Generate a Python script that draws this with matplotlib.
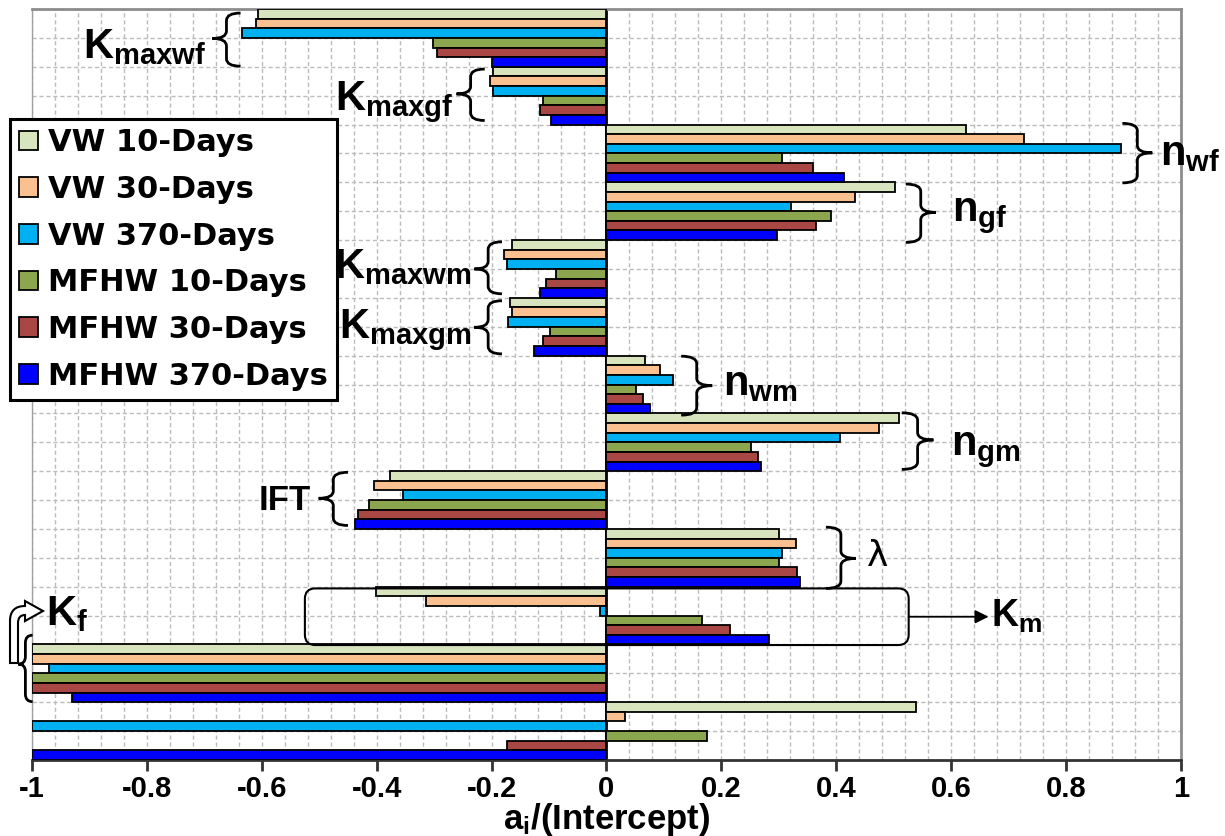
import numpy as np
import matplotlib.pyplot as plt
from matplotlib.patches import Patch, PathPatch, FancyBboxPatch
from matplotlib.path import Path
from matplotlib.transforms import Affine2D
from matplotlib.ticker import FuncFormatter
from matplotlib.font_manager import FontProperties

plt.rcParams['mathtext.fontset'] = 'custom'
plt.rcParams['mathtext.bf'] = 'Liberation Sans:bold'
plt.rcParams['mathtext.rm'] = 'Liberation Sans'
plt.rcParams['mathtext.it'] = 'Liberation Sans:italic'

# groups, top to bottom
groups = ['Kmaxwf', 'Kmaxgf', 'nwf', 'ngf', 'Kmaxwm', 'Kmaxgm', 'nwm', 'ngm',
          'IFT', 'lambda', 'Km', 'Kf', 'Intercept']

series_names = ['VW 10-Days', 'VW 30-Days', 'VW 370-Days',
                'MFHW 10-Days', 'MFHW 30-Days', 'MFHW 370-Days']
colors = ['#d7e4bd', '#fac090', '#00b0f0', '#8ba64f', '#a94744', '#0000ff']

vw10 = [-0.606, -0.197, 0.626, 0.503, -0.165, -0.168, 0.067, 0.509, -0.376, 0.301, -0.401, -1.0, 0.539]
vw30 = [-0.610, -0.202, 0.726, 0.433, -0.178, -0.165, 0.093, 0.474, -0.404, 0.330, -0.314, -1.0, 0.032]
vw370 = [-0.634, -0.197, 0.896, 0.321, -0.174, -0.172, 0.116, 0.406, -0.354, 0.305, -0.012, -0.970, -1.0]
mfhw10 = [-0.302, -0.110, 0.306, 0.391, -0.088, -0.099, 0.051, 0.252, -0.414, 0.301, 0.166, -1.0, 0.175]
mfhw30 = [-0.295, -0.115, 0.359, 0.364, -0.105, -0.110, 0.063, 0.264, -0.432, 0.331, 0.215, -1.0, -0.174]
mfhw370 = [-0.199, -0.097, 0.414, 0.296, -0.115, -0.127, 0.076, 0.269, -0.437, 0.337, 0.283, -0.930, -1.0]

series = [vw10, vw30, vw370, mfhw10, mfhw30, mfhw370]

fig = plt.figure(figsize=(12.25, 8.36), dpi=100)
ax = fig.add_axes([32 / 1225, 76 / 836, 1149 / 1225, 751 / 836])

n = len(groups)
centers = np.arange(n)[::-1]
bar_h = 1 / 6
for j, (vals, col) in enumerate(zip(series, colors)):
    ax.barh(centers + (2.5 - j) * bar_h, vals, height=bar_h, color=col,
            edgecolor='black', linewidth=1.3, zorder=3, label=series_names[j])

ax.set_xlim(-1, 1)
ax.set_ylim(-0.5, n - 0.5)

# grid
ax.set_xticks(np.arange(-1, 1.01, 0.2))
ax.set_xticks(np.arange(-1, 1.001, 0.04), minor=True)
ax.set_yticks(np.arange(-0.5, n, 0.5))
ax.grid(which='both', axis='x', color='#bcbcbc', linestyle=(0, (3, 2)), lw=1)
ax.grid(which='major', axis='y', color='#bcbcbc', linestyle=(0, (3, 2)), lw=1)
ax.set_axisbelow(True)
ax.axvline(0, color='black', lw=2, zorder=2)

ax.xaxis.set_major_formatter(FuncFormatter(lambda v, p: f'{round(v, 1) + 0:g}'))
ax.tick_params(axis='y', length=0, labelleft=False)
ax.tick_params(axis='x', which='major', direction='out', length=8, width=2,
               color='#333333', pad=3, labelsize=21)
ax.tick_params(axis='x', which='minor', length=0)
for lab in ax.get_xticklabels():
    lab.set_family('Liberation Sans')
    lab.set_weight('bold')

ax.spines['bottom'].set_color('#333333')
ax.spines['bottom'].set_linewidth(2)
for s in ['top', 'right']:
    ax.spines[s].set_color('#8c8c8c')
    ax.spines[s].set_linewidth(2)
ax.spines['left'].set_color('#a0a0a0')
ax.spines['left'].set_linewidth(1)

ax.set_xlabel(r'a$_{\mathbf{i}}$/(Intercept)', fontsize=25, fontweight='bold',
              family='Liberation Sans', labelpad=-2)


# curly braces
def brace(x_tip, x_end, y_top, y_bot, y_tip, r=0.13):
    xm = (x_tip + x_end) / 2
    verts = [(x_end, y_top), (xm, y_top), (xm, y_top - r),
             (xm, y_tip + r), (xm, y_tip), (x_tip, y_tip),
             (xm, y_tip), (xm, y_tip - r),
             (xm, y_bot + r), (xm, y_bot), (x_end, y_bot)]
    codes = [Path.MOVETO, Path.CURVE3, Path.CURVE3, Path.LINETO,
             Path.CURVE3, Path.CURVE3, Path.CURVE3, Path.CURVE3,
             Path.LINETO, Path.CURVE3, Path.CURVE3]
    ax.add_patch(PathPatch(Path(verts, codes), fill=False, ec='black',
                           lw=2, zorder=6, clip_on=False))


brace(-0.686, -0.637, 12.43, 11.51, 11.99)
brace(-0.261, -0.212, 11.46, 10.57, 11.03)
brace(0.950, 0.898, 10.52, 9.49, 10.01)
brace(0.573, 0.521, 9.47, 8.46, 8.98)
brace(-0.230, -0.182, 8.47, 7.57, 8.0)
brace(-0.230, -0.182, 7.45, 6.53, 6.99)
brace(0.184, 0.130, 6.49, 5.47, 5.98)
brace(0.569, 0.514, 5.51, 4.53, 5.04)
brace(-0.501, -0.450, 4.48, 3.56, 4.03)
brace(0.434, 0.382, 3.53, 2.47, 2.99)
brace(-1.024, -0.999, 1.66, 0.51, 1.16)

# group labels
lab_kw = dict(fontsize=30, va='baseline', zorder=7)
ax.text(-0.696, 11.65, r'$\mathbf{K_{maxwf}}$', ha='right', **lab_kw)
ax.text(-0.267, 10.75, r'$\mathbf{K_{maxgf}}$', ha='right', **lab_kw)
ax.text(0.964, 9.80, r'$\mathbf{n_{wf}}$', ha='left', **lab_kw)
ax.text(0.602, 8.82, r'$\mathbf{n_{gf}}$', ha='left', **lab_kw)
ax.text(-0.234, 7.84, r'$\mathbf{K_{maxwm}}$', ha='right', **lab_kw)
ax.text(-0.234, 6.80, r'$\mathbf{K_{maxgm}}$', ha='right', **lab_kw)
ax.text(0.202, 5.82, r'$\mathbf{n_{wm}}$', ha='left', **lab_kw)
ax.text(0.599, 4.78, r'$\mathbf{n_{gm}}$', ha='left', **lab_kw)
ax.text(-0.515, 3.83, 'IFT', ha='right', va='baseline', fontsize=25,
        fontweight='bold', family='Liberation Sans', zorder=7)
ax.text(0.453, 2.85, 'λ', ha='left', va='baseline', fontsize=26,
        family='DejaVu Sans', zorder=7)
ax.text(0.669, 1.81, r'$\mathbf{K_m}$', ha='left', fontsize=27, va='baseline', zorder=7)
ax.text(-0.975, 1.84, r'$\mathbf{K_f}$', ha='left', **lab_kw)

# rounded box around Km group + arrow
asp = (1149 / 2) / (751 / n)
ax.add_patch(FancyBboxPatch((-0.525, 1.49), 1.051, 0.98,
                            boxstyle='round,pad=0,rounding_size=0.018',
                            mutation_aspect=asp, fill=False, ec='black',
                            lw=1.5, zorder=6))
ax.annotate('', xy=(0.665, 1.98), xytext=(0.526, 1.98),
            arrowprops=dict(arrowstyle='-|>', color='black', lw=1.3,
                            mutation_scale=20, shrinkA=0, shrinkB=0), zorder=6)

# hollow bent arrow pointing to Kf (drawn in figure pixels, y measured from top)
bent = [(10, 663), (10, 621), (10, 606), (25, 606), (25, 601), (43, 611),
        (25, 621), (25, 615), (18, 615), (18, 623), (18, 663), (10, 663)]
bent_codes = [Path.MOVETO, Path.LINETO, Path.CURVE3, Path.CURVE3, Path.LINETO,
              Path.LINETO, Path.LINETO, Path.LINETO, Path.CURVE3, Path.CURVE3,
              Path.LINETO, Path.CLOSEPOLY]
px_trans = Affine2D().scale(0.01, -0.01).translate(0, 8.36) + fig.dpi_scale_trans
fig.add_artist(PathPatch(Path(bent, bent_codes), fc='white', ec='black', lw=1.5,
                         transform=px_trans, zorder=8))

# legend
handles = [Patch(facecolor=c, edgecolor='black', lw=1.3) for c in colors]
leg = fig.legend(handles, series_names, loc='upper left',
                 bbox_to_anchor=(10 / 1225, 1 - 119 / 836),
                 prop=FontProperties(family='DejaVu Sans', weight='bold', size=22),
                 frameon=True, fancybox=False, edgecolor='black', framealpha=1,
                 borderpad=0.3, labelspacing=0.58, handlelength=0.62,
                 handleheight=0.62, handletextpad=0.32, borderaxespad=0)
leg.get_frame().set_linewidth(2.2)

fig.savefig('out.png', dpi=100)
